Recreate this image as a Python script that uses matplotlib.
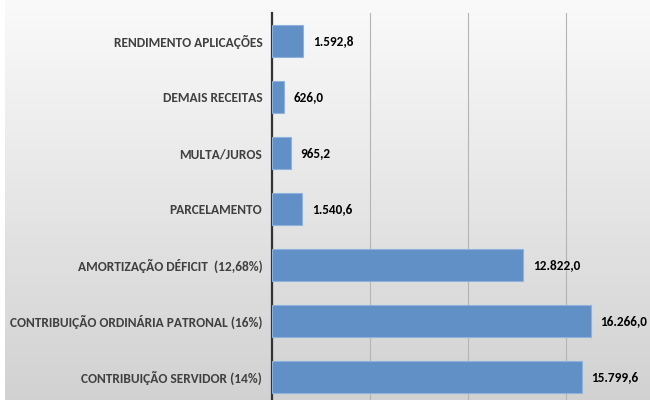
import numpy as np
import matplotlib
matplotlib.use("Agg")
import matplotlib.pyplot as plt

# categorias de receita (de cima para baixo) e valores
categorias = [
    "RENDIMENTO APLICAÇÕES",
    "DEMAIS RECEITAS",
    "MULTA/JUROS",
    "PARCELAMENTO",
    "AMORTIZAÇÃO DÉFICIT  (12,68%)",
    "CONTRIBUIÇÃO ORDINÁRIA PATRONAL (16%)",
    "CONTRIBUIÇÃO SERVIDOR (14%)",
]
valores = [1592.8, 626.0, 965.2, 1540.6, 12822.0, 16266.0, 15799.6]
rotulos = ["1.592,8", "626,0", "965,2", "1.540,6", "12.822,0", "16.266,0", "15.799,6"]

fonte = ["Carlito", "DejaVu Sans"]

fig = plt.figure(figsize=(6.5, 4), dpi=100, facecolor="white")

# fundo cinza em degradê (claro em cima, mais escuro embaixo)
bg = fig.add_axes([5 / 650, 0, 1 - 5 / 650, 1], zorder=0)
faixas = np.linspace(0, 1, 81)
tons = np.linspace(0.82, 0.975, 80).reshape(-1, 1)
bg.pcolormesh([0, 1], faixas, tons, cmap="gray", vmin=0, vmax=1, shading="flat")
bg.set_xlim(0, 1)
bg.set_ylim(0, 1)
bg.set_axis_off()

ax = fig.add_axes([272 / 650, -5 / 400, 392 / 650, 392 / 400], zorder=1)
ax.patch.set_alpha(0)

y = np.arange(len(categorias))
ax.barh(y, valores, height=0.57, color="#6190c6", edgecolor="#8fb2dc", linewidth=0.8, zorder=3)
ax.set_ylim(len(categorias) - 0.5, -0.5)
ax.set_xlim(0, 20000)
ax.set_xticks([0, 5000, 10000, 15000, 20000])
ax.grid(axis="x", color="#b4b4b4", linewidth=0.8, zorder=0)
ax.tick_params(axis="x", bottom=False, labelbottom=False)

ax.set_yticks(y)
ax.set_yticklabels(categorias, family=fonte, fontsize=9.6, fontweight="bold", color="#404040")
ax.tick_params(axis="y", length=0, pad=7)

for s in ["top", "right", "bottom"]:
    ax.spines[s].set_visible(False)
ax.spines["left"].set_color("#333333")
ax.spines["left"].set_linewidth(1.6)

for yi, v, r in zip(y, valores, rotulos):
    ax.annotate(r, (v, yi), xytext=(7, 0), textcoords="offset points", va="center", ha="left",
                family=fonte, fontsize=9.5, fontweight="bold", color="black", annotation_clip=False)

fig.savefig("out.png", dpi=100, facecolor="white")
